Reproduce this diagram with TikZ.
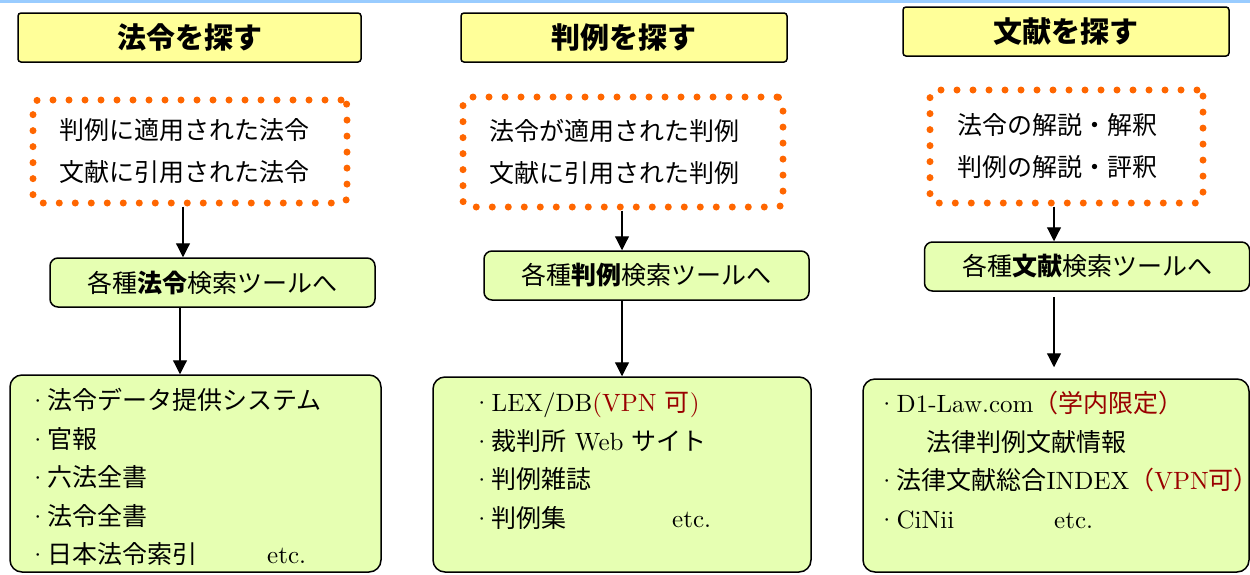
\documentclass[tikz,border=0pt]{standalone}
\usepackage{fontspec}
\setmainfont{lmroman10-regular}[Extension=.otf]
\newfontfamily\jp{Noto Sans CJK JP}
\usetikzlibrary{arrows.meta}
\definecolor{titleyellow}{RGB}{255,255,153}
\definecolor{toolgreen}{RGB}{230,255,178}
\definecolor{dotorange}{RGB}{255,102,0}
\definecolor{vpnred}{RGB}{153,0,0}
\definecolor{topblue}{RGB}{153,204,255}

\begin{document}
\begin{tikzpicture}
  [
    x=1pt, y=-1pt,
    ttl/.style={draw, line width=1.5pt, rounded corners=3pt, fill=titleyellow,
      minimum height=49pt, inner sep=0pt,
      font=\jp\bfseries\fontsize{29}{34}\selectfont},
    dots/.style={draw=dotorange, line width=7pt, dash pattern=on 0pt off 16pt,
      line cap=round, rounded corners=6pt, align=left, inner sep=0pt,
      font=\jp\fontsize{25}{42}\selectfont},
    tool/.style={draw, line width=1.5pt, rounded corners=8pt, fill=toolgreen,
      minimum width=325pt, minimum height=49pt, inner sep=0pt,
      font=\jp\fontsize{25}{30}\selectfont},
    lst/.style={draw, line width=1.5pt, rounded corners=12pt, fill=toolgreen,
      inner sep=0pt},
    txt/.style={anchor=base west, align=left, inner sep=0pt,
      font=\fontsize{25}{38.5}\selectfont},
    arr/.style={line width=1.2pt, -{Triangle[length=14pt, width=14pt]}}
  ]
  \useasboundingbox (0, 0) rectangle (1250, 574);
  \fill [topblue] (0, 0) rectangle (1250, 2.5);

  % titles
  \node [ttl, minimum width=343pt] (ttlLaw)  at (189.5, 37.5) {法令を探す};
  \node [ttl, minimum width=326pt] (ttlCase) at (624.0, 37.5) {判例を探す};
  \node [ttl, minimum width=326pt] (ttlLit)  at (1066.0, 31.5) {文献を探す};

  % what to look for (trailing space pushes the text a little to the left)
  \node [dots, minimum width=314pt, minimum height=103pt] (dotLaw)  at (190.0, 151.5)
    {判例に適用された法令\hspace*{11pt}\\文献に引用された法令\hspace*{11pt}};
  \node [dots, minimum width=320pt, minimum height=110pt] (dotCase) at (623.0, 152.0)
    {法令が適用された判例\hspace*{17pt}\\文献に引用された判例\hspace*{17pt}};
  \node [dots, minimum width=273pt, minimum height=113pt] (dotLit)  at (1066.5, 146.5)
    {法令の解説・解釈\hspace*{19pt}\\判例の解説・評釈\hspace*{19pt}};

  % search tools
  \node [tool] (toolLaw)  at (212.5, 282.5) {各種{\bfseries 法令}検索ツールへ};
  \node [tool] (toolCase) at (646.5, 275.5) {各種{\bfseries 判例}検索ツールへ};
  \node [tool] (toolLit)  at (1087.0, 266.5) {各種{\bfseries 文献}検索ツールへ};

  % lists (text nodes sit on the baseline of their last line)
  \node [lst, minimum width=371pt, minimum height=197pt] (lstLaw)  at (195.5, 473.5) {};
  \node [lst, minimum width=378pt, minimum height=195pt] (lstCase) at (622.0, 474.5) {};
  \node [lst, minimum width=386pt, minimum height=193pt] (lstLit)  at (1056.0, 475.5) {};

  \node [txt] (txtLaw) at (28, 563.5)
    {·{\jp 法令データ提供システム}\\
     ·{\jp 官報}\\
     ·{\jp 六法全書}\\
     ·{\jp 法令全書}\\
     \makebox[239pt][l]{·{\jp 日本法令索引}}etc.};
  \node [txt] (txtCase) at (472, 527)
    {·LEX/DB{\color{vpnred}(VPN {\jp 可})}\\
     ·{\jp 裁判所} Web {\jp サイト}\\
     ·{\jp 判例雑誌}\\
     \makebox[200pt][l]{·{\jp 判例集}}etc.};
  \node [txt] (txtLit) at (877, 528)
    {·D1-Law.com{\color{vpnred}\jp （学内限定）}\\
     \hspace*{49pt}{\jp 法律判例文献情報}\\
     ·{\jp 法律文献総合}INDEX{\color{vpnred}{\jp （}VPN{\jp 可）}}\\
     \makebox[177pt][l]{·CiNii}etc.};

  % arrows
  \coordinate (aLaw)  at (183, 0);
  \coordinate (bLaw)  at (180, 0);
  \coordinate (aCase) at (622, 0);
  \coordinate (aLit)  at (1054, 0);
  \draw [arr] (dotLaw.south -| aLaw)   -- (toolLaw.north -| aLaw);
  \draw [arr] (toolLaw.south -| bLaw)  -- (lstLaw.north -| bLaw);
  \draw [arr] (dotCase.south -| aCase) -- (toolCase.north -| aCase);
  \draw [arr] (toolCase.south -| aCase) -- (lstCase.north -| aCase);
  \draw [arr] (dotLit.south -| aLit)   -- (toolLit.north -| aLit);
  \draw [arr, shorten <=5pt, shorten >=11pt] (toolLit.south -| aLit) -- (lstLit.north -| aLit);
\end{tikzpicture}
\end{document}
